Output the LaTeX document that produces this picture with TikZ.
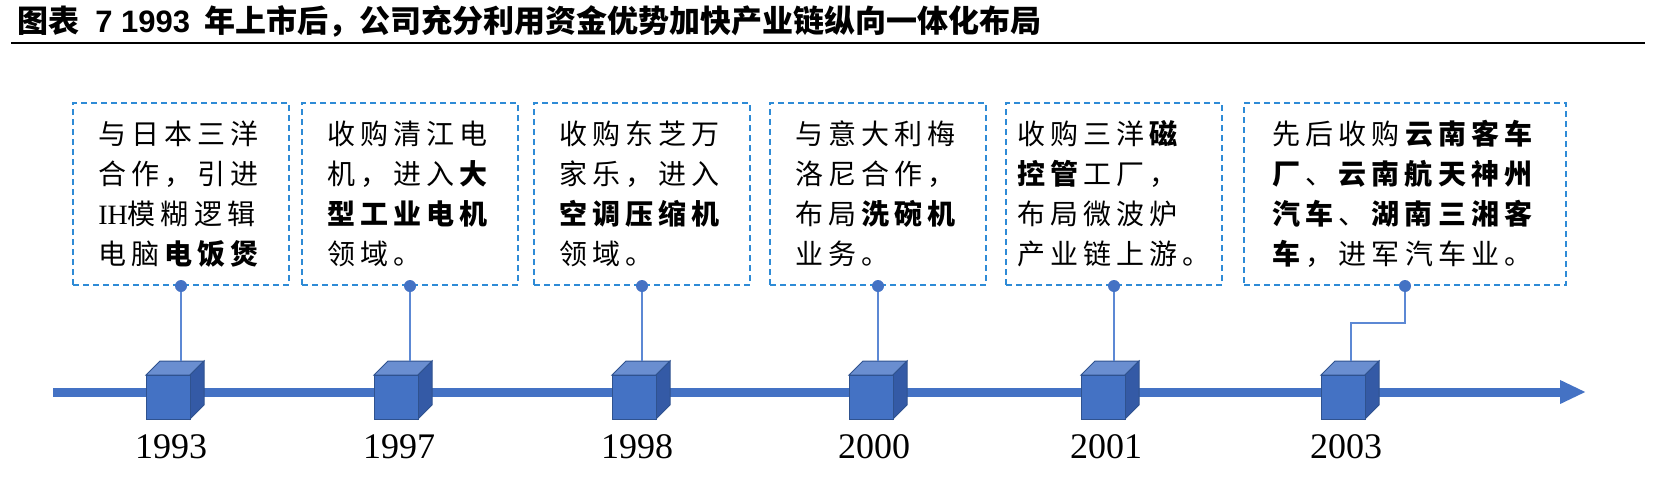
\documentclass[tikz,border=0pt]{standalone}
\usepackage{fontspec}
\setmainfont{Liberation Serif}
\newfontfamily\cjk{Noto Sans CJK SC}[LetterSpace=18]
\newfontfamily\cjkhead{Noto Sans CJK SC}
\newfontfamily\headlatin{Liberation Sans}
\usepackage{tikz}
\usetikzlibrary{arrows.meta,positioning,calc}
\definecolor{lineblue}{RGB}{68,114,196}
\definecolor{boxblue}{RGB}{46,139,214}
\definecolor{linkblue}{RGB}{92,136,212}
\definecolor{cubetop}{RGB}{106,142,208}
\definecolor{cubeside}{RGB}{52,90,166}
\definecolor{cubeedge}{RGB}{47,82,143}

\begin{document}
\begin{tikzpicture}[x=0.5pt, y=-0.5pt,
 event/.style={draw=boxblue, line width=1pt, dash pattern=on 3pt off 2pt,
  minimum width=108pt, minimum height=91pt, inner sep=0pt, align=left,
  font=\cjk\fontsize{14}{20}\selectfont},
 link/.style={draw=linkblue, line width=1pt},
 dot/.style={circle, fill=lineblue, inner sep=0pt, minimum size=6pt},
 front/.style={fill=lineblue, draw=cubeedge, line width=0.5pt, minimum size=22pt, inner sep=0pt},
 year/.style={font=\fontsize{18}{20}\selectfont}]
\useasboundingbox (0,0) rectangle (1660,493);
% heading
\node[anchor=west, inner sep=0pt] (title) at (17,21) {\cjkhead\bfseries\fontsize{15.5}{18}\selectfont 图表\hspace{8pt}{\headlatin 7 1993}\hspace{7pt}年上市后，公司充分利用资金优势加快产业链纵向一体化布局};
\coordinate (r0) at (11,43);
\coordinate (r1) at (1645,43);
\draw[line width=1.3pt] (r0) -- (r1);
% events
\node[event] (b1) at (181,194) {与日本三洋\\合作，引进\\{\rmfamily IH}模糊逻辑\\电脑\textbf{电饭煲}};
\node[event] (b2) at (410,194) {收购清江电\\机，进入\textbf{大}\\\textbf{型工业电机}\\领域。};
\node[event] (b3) at (642,194) {收购东芝万\\家乐，进入\\\textbf{空调压缩机}\\领域。};
\node[event] (b4) at (878,194) {与意大利梅\\洛尼合作，\\布局\textbf{洗碗机}\\业务。};
\node[event] (b5) at (1114,194) {收购三洋\textbf{磁}\\\textbf{控管}工厂，\\布局微波炉\\产业链上游。};
\node[event, minimum width=161pt] (b6) at (1405,194) {先后收购\textbf{云南客车}\\\textbf{厂}、\textbf{云南航天神州}\\\textbf{汽车}、\textbf{湖南三湘客}\\\textbf{车}，进军汽车业。};
% time axis
\coordinate (t0) at (53,392);
\coordinate (t1) at (1586,392);
\draw[lineblue, line width=4.5pt, -{Triangle[length=13pt, width=11pt]}] (t0) -- (t1);
\foreach \n/\x/\yr in {1/168/1993, 2/396/1997, 3/634/1998, 4/871/2000, 5/1103/2001, 6/1343/2003}{
 \filldraw[fill=cubetop, draw=cubeedge, line width=0.5pt] (\x-22,375) -- ++(14,-14) -- ++(44,0) -- ++(-14,14) -- cycle;
 \filldraw[fill=cubeside, draw=cubeedge, line width=0.5pt] (\x+22,375) -- ++(14,-14) -- ++(0,44) -- ++(-14,14) -- cycle;
 \node[front] (k\n) at (\x,397) {};
 \coordinate (t\n) at (\x,361);
 \node[year] (y\n) at (\x+3,447) {\yr};
}
% connectors
\foreach \n in {1,...,5}
 \draw[link] (b\n.south) -- (b\n.south |- t\n);
\coordinate (bend) at (1351,323);
\draw[link] (b6.south) |- (bend) -- (bend |- t6);
\foreach \n in {1,...,6}
 \node[dot] (d\n) at (b\n.south) {};
\end{tikzpicture}
\end{document}
